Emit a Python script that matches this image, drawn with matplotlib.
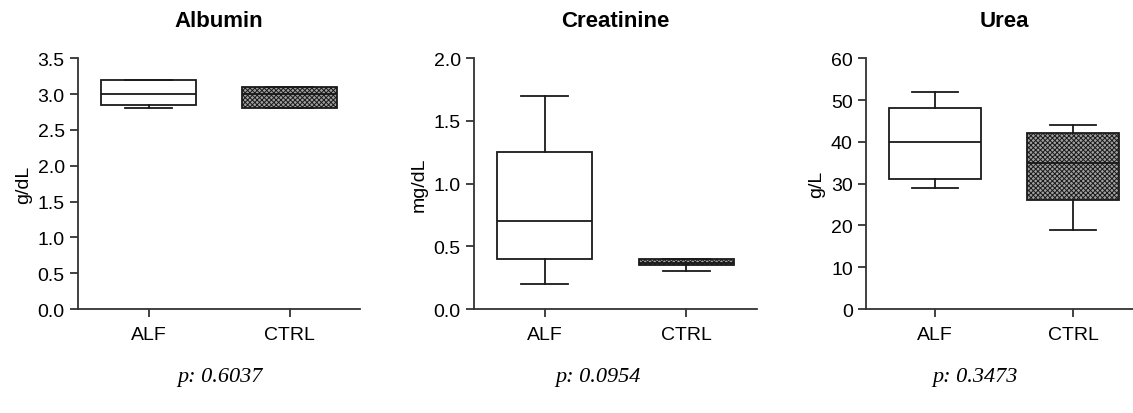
import matplotlib
matplotlib.use("Agg")
import matplotlib.pyplot as plt

plt.rcParams['font.family'] = ['Liberation Sans', 'DejaVu Sans']
plt.rcParams['hatch.linewidth'] = 0.7
plt.rcParams['hatch.color'] = '#222222'

groups = ['ALF', 'CTRL']
titles = ['Albumin', 'Creatinine', 'Urea']
ylabels = ['g/dL', 'mg/dL', 'g/L']
pvalues = ['p: 0.6037', 'p: 0.0954', 'p: 0.3473']

# (whislo, q1, med, q3, whishi) per group
albumin = [(2.8, 2.85, 3.0, 3.2, 3.2), (2.8, 2.8, 3.0, 3.1, 3.1)]
creatinine = [(0.2, 0.4, 0.7, 1.25, 1.7), (0.3, 0.35, 0.37, 0.4, 0.4)]
urea = [(29, 31, 40, 48, 52), (19, 26, 35, 42, 44)]

ylims = [(0, 3.5), (0, 2.0), (0, 60)]
yticks = [[0.0, 0.5, 1.0, 1.5, 2.0, 2.5, 3.0, 3.5],
          [0.0, 0.5, 1.0, 1.5, 2.0],
          [0, 10, 20, 30, 40, 50, 60]]
yfmt = ['{:.1f}', '{:.1f}', '{:.0f}']

fig = plt.figure(figsize=(11.33, 4.14), dpi=100)
positions = [[78 / 1133, 0.251, 282 / 1133, 0.606],
             [474 / 1133, 0.251, 283 / 1133, 0.606],
             [866 / 1133, 0.251, 276 / 1133, 0.606]]
pcenters = [220 / 1133, 598 / 1133, 975 / 1133]

for i, data in enumerate([albumin, creatinine, urea]):
    ax = fig.add_axes(positions[i])
    stats = []
    for g, (lo, q1, med, q3, hi) in zip(groups, data):
        stats.append(dict(label=g, whislo=lo, q1=q1, med=med, q3=q3, whishi=hi, fliers=[]))
    bp = ax.bxp(stats, positions=[1, 2], widths=0.67, patch_artist=True,
                showfliers=False,
                boxprops=dict(linewidth=1.3, edgecolor='#1a1a1a'),
                medianprops=dict(color='#1a1a1a', linewidth=1.3),
                whiskerprops=dict(color='#1a1a1a', linewidth=1.3),
                capprops=dict(color='#1a1a1a', linewidth=1.3),
                capwidths=0.33)
    bp['boxes'][0].set_facecolor('white')
    bp['boxes'][1].set_facecolor('#a0a0a0')
    bp['boxes'][1].set_hatch('xxxxxxx')
    ax.set_xlim(0.5, 2.5)
    ax.set_ylim(*ylims[i])
    ax.set_yticks(yticks[i])
    ax.set_yticklabels([yfmt[i].format(v) for v in yticks[i]])
    ax.spines['top'].set_visible(False)
    ax.spines['right'].set_visible(False)
    for s in ['left', 'bottom']:
        ax.spines[s].set_linewidth(1.3)
        ax.spines[s].set_color('#333333')
    ax.tick_params(axis='both', labelsize=14, width=1.3, length=6, color='#333333')
    ax.tick_params(axis='x', pad=6)
    ax.set_ylabel(ylabels[i], fontsize=14, labelpad=4)
    ax.set_title(titles[i], fontsize=16, fontweight='bold', pad=23)
    fig.text(pcenters[i], 0.087, pvalues[i], ha='center', va='center',
             fontsize=16, style='italic', family=['Liberation Serif', 'DejaVu Serif'])

fig.savefig('out.png', dpi=100)
